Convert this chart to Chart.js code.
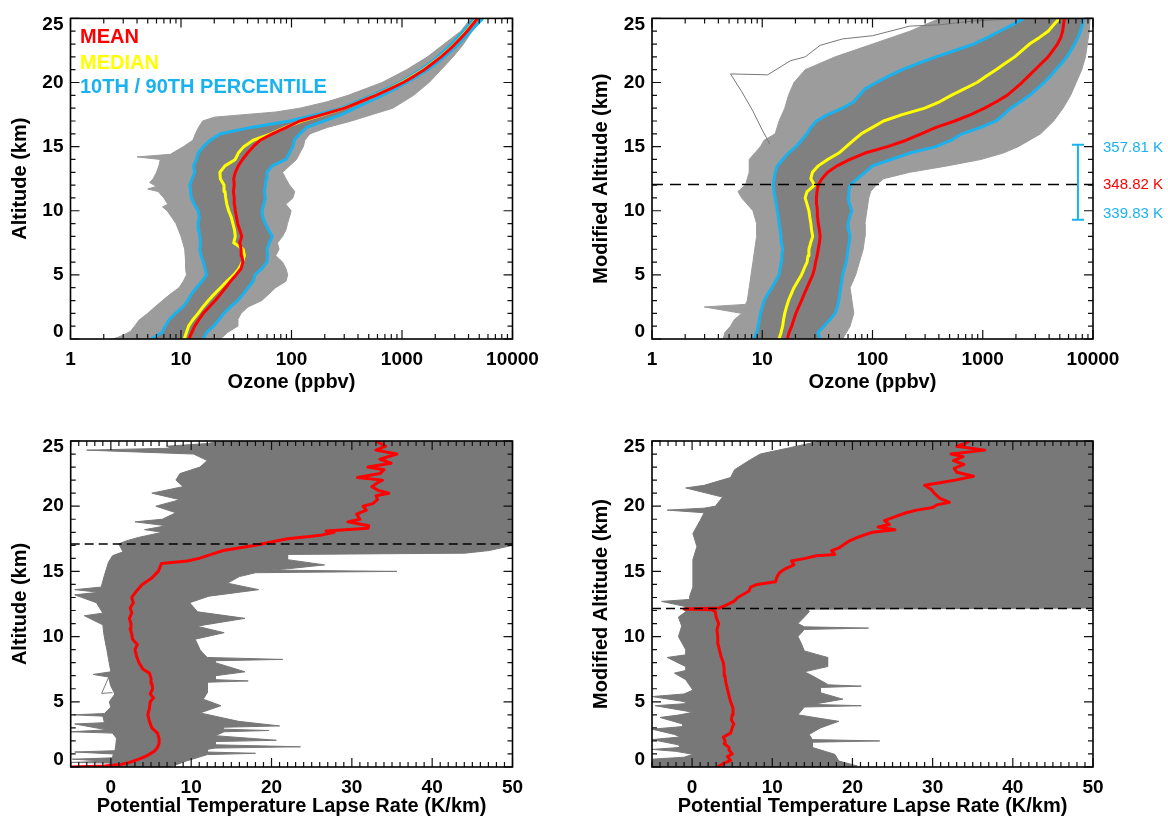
<!DOCTYPE html>
<html><head><meta charset="utf-8">
<script src="https://cdn.jsdelivr.net/npm/chart.js@4.4.1/dist/chart.umd.min.js"></script>
<style>
html,body{margin:0;padding:0;background:#fff;}
#wrap{position:relative;width:1168px;height:818px;overflow:hidden;background:#fff;}
.pane{position:absolute;width:584px;height:409px;}
canvas{display:block;}
</style></head><body>
<div id="wrap">
<div class="pane" style="left:0;top:0"><canvas id="c1" width="584" height="409"></canvas></div>
<div class="pane" style="left:584px;top:0"><canvas id="c2" width="584" height="409"></canvas></div>
<div class="pane" style="left:0;top:409px"><canvas id="c3" width="584" height="409"></canvas></div>
<div class="pane" style="left:584px;top:409px"><canvas id="c4" width="584" height="409"></canvas></div>
</div>
<script>
// ---------------- DATA ----------------
const ALT = [0,0.5,1,1.5,2,2.5,3,3.5,4,4.5,5,5.5,6,6.5,7,7.5,8,8.5,9,9.5,10,10.5,11,11.5,12,12.5,13,13.5,14,14.5,15,15.5,16,16.5,17,17.5,18,18.5,19,19.5,20,20.5,21,21.5,22,22.5,23,23.5,24,24.5,25];

// Top-left: ozone vs altitude (ppbv)
const TL_MEAN   = [11.8,12.5,13.3,14.5,15.9,18.0,20.4,22.8,25.3,28.0,31.5,35.0,36.3,35.5,35.0,34.0,35.5,34.0,32.6,31.8,31.0,30.5,30.3,29.8,30.3,30.0,31.0,33.0,36.0,40.0,45.0,52.0,67.0,90.0,119,190,302,420,578,780,1025,1290,1590,1900,2260,2630,3020,3440,3880,4330,4800];
const TL_MEDIAN = [10.7,11.2,11.7,12.8,14.3,15.8,17.7,20.0,22.8,26.0,30.0,33.5,36.0,37.5,36.5,30.0,31.0,30.5,29.5,28.5,27.0,26.0,25.4,25.0,24.5,22.7,22.5,25.0,31.0,33.0,37.0,45.0,65.0,88.0,124,195,300,420,570,770,1000,1260,1560,1870,2230,2600,2990,3400,3830,4280,4750];
const TL_P10    = [5.4,6.7,7.2,7.8,8.9,10.4,11.5,12.4,13.8,15.5,17.0,16.5,15.9,15.2,14.8,15.0,14.8,14.5,14.3,14.6,14.3,13.2,12.4,12.2,12.0,12.6,13.3,13.0,13.8,14.3,15.9,18.4,22.8,43,96,170,282,390,535,720,955,1200,1475,1780,2100,2440,2800,3180,3600,4030,4500];
const TL_P90    = [15.9,17.0,19.7,22.0,24.4,28.0,32.6,36.5,40.4,45.0,46.7,54.0,60.0,61.0,60.0,63.0,67.0,62.0,58.0,55.0,54.0,56.0,58.0,57.0,58.0,59.0,60.0,67.0,89.0,96.0,103,106,119,137,196,282,375,500,665,860,1100,1380,1700,2040,2420,2820,3240,3690,4170,4750,5370];
const TL_MIN_ALT = [0,0.3,0.6,1,1.5,2,2.5,3,3.5,4,4.5,5,5.5,6,7,8,9,10,10.3,10.5,11,11.5,11.7,11.9,12.2,12.5,13,13.5,14,14.2,14.4,15,15.5,16,16.5,17,17.3,17.7,18,18.5,19,20,21,22,23,24,25];
const TL_MIN_VAL = [2.45,3.0,3.5,3.8,4.2,5.0,5.8,6.8,8.0,9.6,10.5,11.2,11.0,11.0,10.8,10.0,9.0,7.5,6.8,7.6,7.0,6.2,5.0,6.0,5.2,5.6,6.0,6.3,6.5,4.0,8.0,10.5,12.8,13.5,14.4,15.7,20,72,119,210,325,660,1100,1700,2400,3400,4200];
const TL_MAX_ALT = [0,0.5,1,1.5,2,2.5,3,3.5,4,4.5,5,5.5,6,6.5,7,7.5,8,8.5,9,9.5,10,10.5,11,11.5,12,12.5,13,13.5,14,14.5,15,15.5,16,16.5,17,17.5,18,18.5,19,20,21,22,23,24,25];
const TL_MAX_VAL = [22.8,26.3,32.6,32.6,35.0,40.4,53.9,62.3,71.8,89.1,92.4,89,83,72,77.2,74.6,83,89,92,95.8,99.3,89,103,107,96,89,83,96,111,119,128,132,147,211,349,537,826,1026,1273,1759,2260,2904,3606,4315,5352];

// Top-right: ozone vs modified altitude (ppbv)
const TR_MEAN   = [16.9,17.5,18.5,19.3,20.2,21.4,22.7,24.0,25.5,27.0,28.7,29.8,30.5,31.5,32.2,33.0,33.5,33.0,32.2,31.8,31.6,31.2,31.0,31.4,32.2,34.8,39.2,47.6,62.6,85.5,137,202,276,377,557,780,1040,1330,1660,1950,2270,2600,2980,3420,3920,4330,4760,5100,5300,5400,5500];
const TR_MEDIAN = [14.2,14.8,15.3,15.6,16.0,16.6,17.3,18.3,19.4,21.0,22.7,24.0,25.5,26.0,26.5,27.5,28.7,28.0,27.6,27.0,26.5,25.5,24.5,25.5,29.8,27.6,28.5,32.2,39.2,49.5,57.8,67.5,79,100,126,186,298,406,517,680,887,1080,1320,1600,1950,2280,2650,3250,3920,4400,4950];
const TR_P10    = [8.4,8.9,9.2,9.4,9.6,10.0,10.4,11.2,12.2,13.2,14.2,14.5,14.8,15.0,15.3,15.0,14.8,14.5,14.2,14.0,13.7,13.4,13.1,12.8,12.6,12.8,13.1,13.7,15.3,17.3,20.2,22.7,25.5,27.6,31.0,39.0,53.6,67.5,76,85.5,108,140,186,260,377,560,823,1100,1420,1850,2360];
const TR_P90    = [33.5,32.0,36.3,41.0,45.8,48.0,49.5,50.5,51.5,52.5,53.6,55.5,57.8,59.0,60.0,61.5,62.6,61.0,60.0,62.0,65.0,62.0,60.0,61.0,62.6,73.0,85.5,100,147,218,377,517,650,960,1320,1550,1790,2200,2660,3100,3600,4100,4600,5200,5800,6300,6800,7300,7700,8000,8200];
const TR_MIN_ALT = [0,0.5,1,1.5,2,2.5,2.7,3,4,5,6,7,8,9,10,11,11.5,12,13,14,15,15.5,16,17,18,19,20,21,22,23,24,25];
const TR_MIN_VAL = [4.41,4.58,5.15,5.57,6.51,2.98,7.04,7.32,7.61,7.91,8.23,8.55,8.89,8.89,8.23,6.51,6.02,7.04,7.61,7.61,9.62,10.4,13.1,14.2,16.0,17.3,19.4,24.5,45.8,100,218,408];
const TR_MAX_ALT = [0,1,2,3,4,5,6,7,8,9,10,11,11.5,12,12.5,13,13.5,14,14.5,15,16,17,18,19,20,21,22,23,24,25];
const TR_MAX_VAL = [53.6,62.6,67.7,65.1,62.6,70.4,76.1,82.3,85.5,85.5,88.9,92.5,96.2,108,126,218,476,962,1535,2100,3350,4400,5350,6270,7040,7910,8550,8890,9250,9400];
const TR_OUT_VAL = [11.7,10,8.2,6.5,5.15,11.2,18,24.5,33.5,53.6,100,218,407,822,2450];
const TR_OUT_ALT = [15.2,16.3,17.8,19.3,20.67,20.6,21.7,22.0,22.9,23.4,23.65,24.4,24.5,24.8,25];
const TR_TROPOPAUSE = 12.05;
const TR_ERR_X = 7300;
const TR_ERR_CAP_X = [6450, 8290];
const TR_ERR_ALT = [9.29, 15.14];
const TR_ERR_LABELS = ['357.81 K', '348.82 K', '339.83 K'];

// Bottom-left: potential temperature lapse rate (K/km) vs altitude
const BL_MEAN_ALT = [0.0,0.08,0.2,0.35,0.6,0.9,1.2,1.5,1.8,2.2,2.6,3.0,3.5,4.0,4.5,5.0,5.3,5.6,6.0,6.4,6.8,7.2,7.5,8.0,8.5,9.0,9.4,9.8,10.2,10.6,11.0,11.4,11.8,12.2,12.6,13.0,13.5,14.0,14.5,15.0,15.3,15.6,15.8,16.0,16.3,16.6,17.0,17.3,17.5,17.7,17.8,18.0,18.1,18.3,18.5,18.8,19.0,19.4,19.7,20.0,20.2,20.5,20.8,21.0,21.2,21.5,21.8,22.0,22.2,22.5,22.8,23.0,23.3,23.6,24.0,24.3,24.6,25.0];
const BL_MEAN_VAL = [-5.0,-0.8,1.3,2.3,3.5,4.6,5.4,5.8,6.0,6.0,5.8,5.1,4.8,4.6,4.8,4.9,5.3,4.9,5.2,5.1,5.0,4.8,4.0,3.5,3.2,3.0,3.3,2.7,2.6,2.4,2.5,2.3,2.6,2.4,2.8,2.6,3.2,3.9,5.1,5.9,6.1,6.3,9.5,11.0,12.5,14.0,18.0,20.3,22.0,25.0,26.3,27.8,26.8,32.0,32.1,29.5,31.0,30.6,31.8,31.4,32.6,33.2,33.0,34.6,33.3,32.5,33.2,33.8,30.7,33.5,34.0,32.0,34.9,33.5,35.6,33.0,34.2,33.0];
const BL_MIN_ALT = [0,0.05,0.3,0.35,0.45,0.6,0.7,1.0,1.15,1.25,1.6,2.2,2.6,2.7,2.85,3.3,3.4,3.9,4.0,4.1,4.6,5.0,5.6,6.2,6.9,7.1,7.3,8.3,9.0,9.6,10.3,10.9,11.6,11.8,12.6,13.2,13.4,13.6,13.8,14.7,15.7,16.2,16.5,17.1,17.3,17.6,18.0,18.2,18.5,18.8,19.0,19.5,20.0,20.5,21.0,21.5,22.0,22.5,23.0,23.5,24.0,24.3,24.45,24.6,24.8,25];
const BL_MIN_VAL = [-5,0,-0.2,-4.9,-0.5,-4.8,0.2,0.3,-4.5,0.5,0.6,0.7,0.2,-5,-0.5,-4.5,-0.8,-1,-4.6,-0.8,0,-0.2,0.5,0,-0.3,-2.2,0,-0.3,-0.5,-0.7,-0.9,-1.0,-3.3,-1.0,-1.8,-4.5,-1.5,-4.5,-1.2,-0.8,-0.3,0.2,1.5,1.0,1.7,3.4,6.4,4.2,6.9,3.0,6.4,8.1,5.6,8.6,5.1,9.0,8.1,8.6,11.1,12.0,10.3,-3.0,7.5,6.9,12,13.7];
const BL_MAX_ALT = [0,0.08,0.46,0.95,1.05,1.15,1.35,1.45,1.55,1.7,1.95,2.05,2.4,2.7,2.8,2.9,3.05,3.15,3.5,4.15,4.7,5.2,5.7,6.5,6.6,6.7,7.0,7.3,8.0,8.15,8.25,8.4,8.7,9.0,9.8,10.3,10.8,11.4,11.9,12.6,13.1,13.6,14.1,14.6,14.9,15.0,15.1,15.2,15.5,15.9,16.3,16.4,16.6,17.0,25];
const BL_MAX_VAL = [6.5,7.7,9.4,12,18,12,12,13,23.6,13,13,20.6,13,14.1,19.7,14,14,21,15.9,11.1,13.7,11.5,12,12,17.1,13,13,16.7,13,13,21.4,12,11.5,11.1,10.5,14.1,10.7,16.7,10.8,9.8,12.2,18.4,14.5,16,18,35.6,20,22,26.6,22,22,44.1,47.1,50,50];
const BL_OUT_VAL = [0.6,-1.15,0.2];
const BL_OUT_ALT = [8.1,5.65,5.7];
const BL_TROPOPAUSE = 17.1;

// Bottom-right: potential temperature lapse rate (K/km) vs modified altitude
const BR_MEAN_ALT = [0.0,0.3,0.5,0.8,1.0,1.3,1.5,1.8,2.0,2.3,2.6,3.0,3.3,3.6,4.0,4.5,5.0,5.5,6.0,6.5,7.0,7.5,8.0,8.5,9.0,9.5,10.0,10.5,11.0,11.5,11.9,12.05,12.12,12.2,12.4,12.7,13.0,13.5,13.8,14.0,14.2,14.6,14.9,15.2,15.5,15.8,16.0,16.2,16.3,16.6,16.8,17.0,17.3,17.6,17.8,18.0,18.2,18.4,18.6,18.9,19.1,19.5,19.7,19.9,20.1,20.3,20.6,21.0,21.3,21.6,21.8,22.0,22.3,22.6,22.9,23.2,23.5,23.8,24.0,24.3,24.6,24.8,25.0];
const BR_MEAN_VAL = [3.2,4.0,4.8,4.4,5.0,4.6,4.6,4.0,4.1,3.9,4.8,5.0,5.2,4.9,5.0,5.1,4.8,4.6,4.4,4.2,4.1,4.0,3.9,3.6,3.4,3.2,3.2,3.1,3.3,3.0,2.9,2.5,-1.0,3.4,4.2,5.2,5.7,7.1,7.3,8.1,10.4,10.6,10.9,11.6,12.7,12.4,14.1,15.5,17.8,17.4,18.3,18.8,19.5,20.6,21.5,22.5,25.3,23.2,24.6,24.0,24.9,26.7,28.0,30.0,30.5,32.1,30.9,30.2,29.8,29.0,30.9,32.8,35.1,33.0,32.7,33.9,32.6,33.8,32.3,36.5,33.0,34.0,34.6];
const BR_MIN_ALT = [0,0.08,0.6,0.75,0.97,1.2,1.35,1.5,1.7,2.1,2.3,2.5,2.9,3.1,3.3,3.8,4.0,4.2,4.7,4.85,5.0,5.4,5.6,5.9,6.7,7.2,7.4,7.7,8.4,8.6,9.0,10.0,10.8,11.5,11.9,12.1,12.3,12.7,12.85,13.1,13.8,14.9,15.9,16.9,17.9,18.9,19.5,19.7,19.85,20.0,20.7,21.2,21.4,21.6,22.2,22.8,23.5,24.0,24.5,25];
const BR_MIN_VAL = [-5,-5,-5,-1,0.1,-2,-5,-1.5,-1.7,-5,-1.5,-2.2,-5,-1.2,-1.2,-4,-1.5,0.1,-4.6,-1,-0.8,-5,-1,0.1,-0.8,-2.2,-0.8,-0.8,-3.1,-0.8,-0.8,-1.7,-1.3,-1.7,-0.8,-1.0,-0.8,-3.8,-0.3,-0.3,0.1,0.1,0.1,0.6,0.1,1.0,1.5,-3.1,1.5,2.9,3.8,0.5,-0.8,1.5,4.8,5.3,7.1,8.5,12.3,16];
const BR_MAX_ALT = [0,0.08,0.46,0.97,1.5,1.9,2.0,2.1,2.5,3.0,3.5,4.0,4.6,4.7,4.8,5.2,5.7,6.1,6.2,6.3,7.0,7.3,7.7,8.4,8.9,9.5,10.0,10.55,10.65,10.75,11.0,11.5,11.9,12.1,12.2,25];
const BR_MAX_VAL = [19,20.6,18.3,17.8,15,15,23.4,15,14.6,16,18.3,13.2,14,21.1,15,18.8,16,16,21.1,17,15,14,16.9,16.9,14,13.6,13.2,14,22,14,13.2,14,14.6,14.5,50,50];
const BR_TROPOPAUSE = 12.15;

// Axis tick values
const LOG_MAJOR = [1,10,100,1000,10000];
const LIN_X_MAJOR = [0,10,20,30,40,50];
const Y_MAJOR = [0,5,10,15,20,25];

// ---------------- STYLE / HELPERS ----------------
const FONT = "'Liberation Sans', Arial, Helvetica, sans-serif";
Chart.defaults.font.family = FONT;
Chart.defaults.color = '#000';
const RED = '#ff0000', YEL = '#ffff00', CYAN = '#1ab2ee';
const GRAY = '#787878', GRAY_IN = '#808080', GRAY_OUT = '#9c9c9c';

function pts(vals, alts){ return vals.map((v,i)=>({x:v, y:alts[i]})); }
function polygon(aV,aA,bV,bA){ const p = pts(aV,aA), q = pts(bV,bA).reverse(); return p.concat(q,[p[0]]); }
function lineDS(data, color, width, order, extra){
  return Object.assign({data, borderColor:color, backgroundColor:color, borderWidth:width, pointRadius:0,
    pointHoverRadius:0, tension:0, fill:false, order, borderJoinStyle:'round'}, extra||{});
}
function fillDS(data, color, order){
  return {data, borderColor:color, backgroundColor:color, borderWidth:1, pointRadius:0, pointHoverRadius:0,
    tension:0, fill:'shape', order, borderJoinStyle:'round'};
}
function hline(y, x0, x1, dash, order){
  return lineDS([{x:x0,y:y},{x:x1,y:y}], '#000', 1.5, order, {borderDash:dash});
}

const LOG_MINOR = []; [1,10,100,1000].forEach(d=>{ for(let k=2;k<=9;k++) LOG_MINOR.push(d*k); });
const LIN_X_MINOR = []; for(let v=-5; v<=50; v++) LIN_X_MINOR.push(v);
const Y_MINOR = []; for(let v=0; v<=25; v++) Y_MINOR.push(v);

const DECO = {};
const decoPlugin = {
  id:'deco',
  beforeDraw(chart){
    const s = chart.scales.y;
    try {
      const items = s.getLabelItems(chart.chartArea);
      if (items && items.length && !items._shifted) {
        items[0].options.translation[1] -= 7;
        items[items.length-1].options.translation[1] += 6;
        items._shifted = true;
      }
    } catch(e) {}
  },
  afterDraw(chart){
    const o = DECO[chart.canvas.id]; if(!o) return;
    const {ctx, chartArea:a, scales:{x,y}} = chart;
    ctx.save();
    ctx.strokeStyle = '#111'; ctx.lineWidth = 1.2;
    ctx.beginPath();
    const xt = (v,len)=>{ const p = x.getPixelForValue(v); if(p<a.left-0.5||p>a.right+0.5) return;
      ctx.moveTo(p,a.bottom); ctx.lineTo(p,a.bottom-len); ctx.moveTo(p,a.top); ctx.lineTo(p,a.top+len); };
    const yt = (v,len)=>{ const p = y.getPixelForValue(v);
      ctx.moveTo(a.left,p); ctx.lineTo(a.left+len,p); ctx.moveTo(a.right,p); ctx.lineTo(a.right-len,p); };
    o.xMinor.forEach(v=>xt(v,5)); o.xMajor.forEach(v=>xt(v,9));
    Y_MINOR.forEach(v=>yt(v,5)); Y_MAJOR.forEach(v=>yt(v,9));
    ctx.stroke();
    ctx.lineWidth = 1.6; ctx.strokeStyle = '#000';
    ctx.strokeRect(a.left, a.top, a.right-a.left, a.bottom-a.top);
    if (o.legend) {
      ctx.font = 'bold 20px ' + FONT; ctx.textBaseline = 'middle'; ctx.textAlign = 'left';
      ctx.fillStyle = RED;  ctx.fillText('MEAN', a.left+9.5, a.top+19.5);
      ctx.fillStyle = YEL;  ctx.fillText('MEDIAN', a.left+9.5, a.top+45.5);
      ctx.fillStyle = CYAN; ctx.fillText('10TH / 90TH PERCENTILE', a.left+9.5, a.top+69.5);
    }
    if (o.err) {
      ctx.font = '15px ' + FONT; ctx.textBaseline = 'middle'; ctx.textAlign = 'left';
      const lx = a.right + 10;
      ctx.fillStyle = CYAN; ctx.fillText(TR_ERR_LABELS[0], lx, y.getPixelForValue(TR_ERR_ALT[1]) + 3);
      ctx.fillStyle = RED;  ctx.fillText(TR_ERR_LABELS[1], lx, y.getPixelForValue(TR_TROPOPAUSE));
      ctx.fillStyle = CYAN; ctx.fillText(TR_ERR_LABELS[2], lx, y.getPixelForValue(TR_ERR_ALT[0]) - 6);
    }
    ctx.restore();
  }
};

function makeChart(id, c){
  const W = 584, H = 409;
  DECO[id] = {xMajor:c.xMajor, xMinor:c.xMinor, legend:!!c.legend, err:!!c.err};
  return new Chart(document.getElementById(id), {
    type:'line',
    data:{datasets:c.datasets},
    options:{
      responsive:false, animation:false, events:[],
      layout:{padding:{left:0, top:c.area.top, right:W-c.area.right, bottom:0}},
      plugins:{legend:{display:false}, tooltip:{enabled:false}},
      scales:{
        x:{type:c.xType, min:c.xMin, max:c.xMax, position:'bottom',
          grid:{display:false, drawTicks:false}, border:{display:false},
          afterBuildTicks:s=>{ s.ticks = c.xMajor.map(v=>({value:v})); },
          afterFit:s=>{ s.height = H - c.area.bottom; },
          ticks:{autoSkip:false, maxRotation:0, minRotation:0, padding:9, color:'#000',
            font:{size:19, weight:'bold'}, callback:v=>String(v)},
          title:{display:true, text:c.xTitle, color:'#000', font:{size:20, weight:'bold'},
            padding:{top:0, bottom:c.xTitlePad}}},
        y:{type:'linear', min:0, max:25, position:'left',
          grid:{display:false, drawTicks:false}, border:{display:false},
          afterBuildTicks:s=>{ s.ticks = Y_MAJOR.map(v=>({value:v})); },
          afterFit:s=>{ s.width = c.area.left; },
          ticks:{autoSkip:false, padding:7, color:'#000', font:{size:19, weight:'bold'}, callback:v=>String(v)},
          title:{display:true, text:c.yTitle, color:'#000', font:{size:20, weight:'bold'},
            padding:{top:c.yTitlePad, bottom:0}}}
      }
    },
    plugins:[decoPlugin]
  });
}

// ---------------- CHARTS ----------------
makeChart('c1', {
  xType:'logarithmic', xMin:1, xMax:10000, xMajor:LOG_MAJOR, xMinor:LOG_MINOR,
  xTitle:'Ozone (ppbv)', yTitle:'Altitude (km)', xTitlePad:15, yTitlePad:8, legend:true,
  area:{left:70.5, top:12.5, right:512.5, bottom:339},
  datasets:[
    lineDS(pts(TL_MEAN, ALT), RED, 3, 1),
    lineDS(pts(TL_MEDIAN, ALT), YEL, 3, 2),
    lineDS(pts(TL_P10, ALT), CYAN, 3, 3),
    lineDS(pts(TL_P90, ALT), CYAN, 3, 3),
    fillDS(polygon(TL_P10, ALT, TL_P90, ALT), GRAY_IN, 6),
    fillDS(polygon(TL_MIN_VAL, TL_MIN_ALT, TL_MAX_VAL, TL_MAX_ALT), GRAY_OUT, 7)
  ]
});

makeChart('c2', {
  xType:'logarithmic', xMin:1, xMax:10000, xMajor:LOG_MAJOR, xMinor:LOG_MINOR,
  xTitle:'Ozone (ppbv)', yTitle:'Modified Altitude (km)', xTitlePad:15, yTitlePad:5, err:true,
  area:{left:68, top:12.5, right:509, bottom:339},
  datasets:[
    hline(TR_TROPOPAUSE, 1, 10000, [11,7], 0),
    lineDS([{x:TR_ERR_X,y:TR_ERR_ALT[0]},{x:TR_ERR_X,y:TR_ERR_ALT[1]}], CYAN, 2, 0),
    lineDS([{x:TR_ERR_CAP_X[0],y:TR_ERR_ALT[0]},{x:TR_ERR_CAP_X[1],y:TR_ERR_ALT[0]}], CYAN, 2, 0),
    lineDS([{x:TR_ERR_CAP_X[0],y:TR_ERR_ALT[1]},{x:TR_ERR_CAP_X[1],y:TR_ERR_ALT[1]}], CYAN, 2, 0),
    lineDS(pts(TR_MEAN, ALT), RED, 3, 1),
    lineDS(pts(TR_MEDIAN, ALT), YEL, 3, 2),
    lineDS(pts(TR_P10, ALT), CYAN, 3, 3),
    lineDS(pts(TR_P90, ALT), CYAN, 3, 3),
    lineDS(pts(TR_OUT_VAL, TR_OUT_ALT), GRAY, 1, 5),
    fillDS(polygon(TR_P10, ALT, TR_P90, ALT), GRAY_IN, 6),
    fillDS(polygon(TR_MIN_VAL, TR_MIN_ALT, TR_MAX_VAL, TR_MAX_ALT), GRAY_OUT, 7)
  ]
});

makeChart('c3', {
  xType:'linear', xMin:-5, xMax:50, xMajor:LIN_X_MAJOR, xMinor:LIN_X_MINOR,
  xTitle:'Potential Temperature Lapse Rate (K/km)', yTitle:'Altitude (km)', xTitlePad:0, yTitlePad:8,
  area:{left:70.7, top:32, right:512.5, bottom:358},
  datasets:[
    hline(BL_TROPOPAUSE, -5, 50, [9,5], 0),
    lineDS(pts(BL_MEAN_VAL, BL_MEAN_ALT), RED, 3, 1),
    lineDS(pts(BL_OUT_VAL, BL_OUT_ALT), GRAY, 1, 5),
    fillDS(polygon(BL_MIN_VAL, BL_MIN_ALT, BL_MAX_VAL, BL_MAX_ALT), GRAY, 7)
  ]
});

makeChart('c4', {
  xType:'linear', xMin:-5, xMax:50, xMajor:LIN_X_MAJOR, xMinor:LIN_X_MINOR,
  xTitle:'Potential Temperature Lapse Rate (K/km)', yTitle:'Modified Altitude (km)', xTitlePad:0, yTitlePad:5,
  area:{left:68, top:32, right:509, bottom:358},
  datasets:[
    hline(BR_TROPOPAUSE, -5, 50, [9,5], 0),
    lineDS(pts(BR_MEAN_VAL, BR_MEAN_ALT), RED, 3, 1),
    fillDS(polygon(BR_MIN_VAL, BR_MIN_ALT, BR_MAX_VAL, BR_MAX_ALT), GRAY, 7)
  ]
});
</script>
</body></html>
